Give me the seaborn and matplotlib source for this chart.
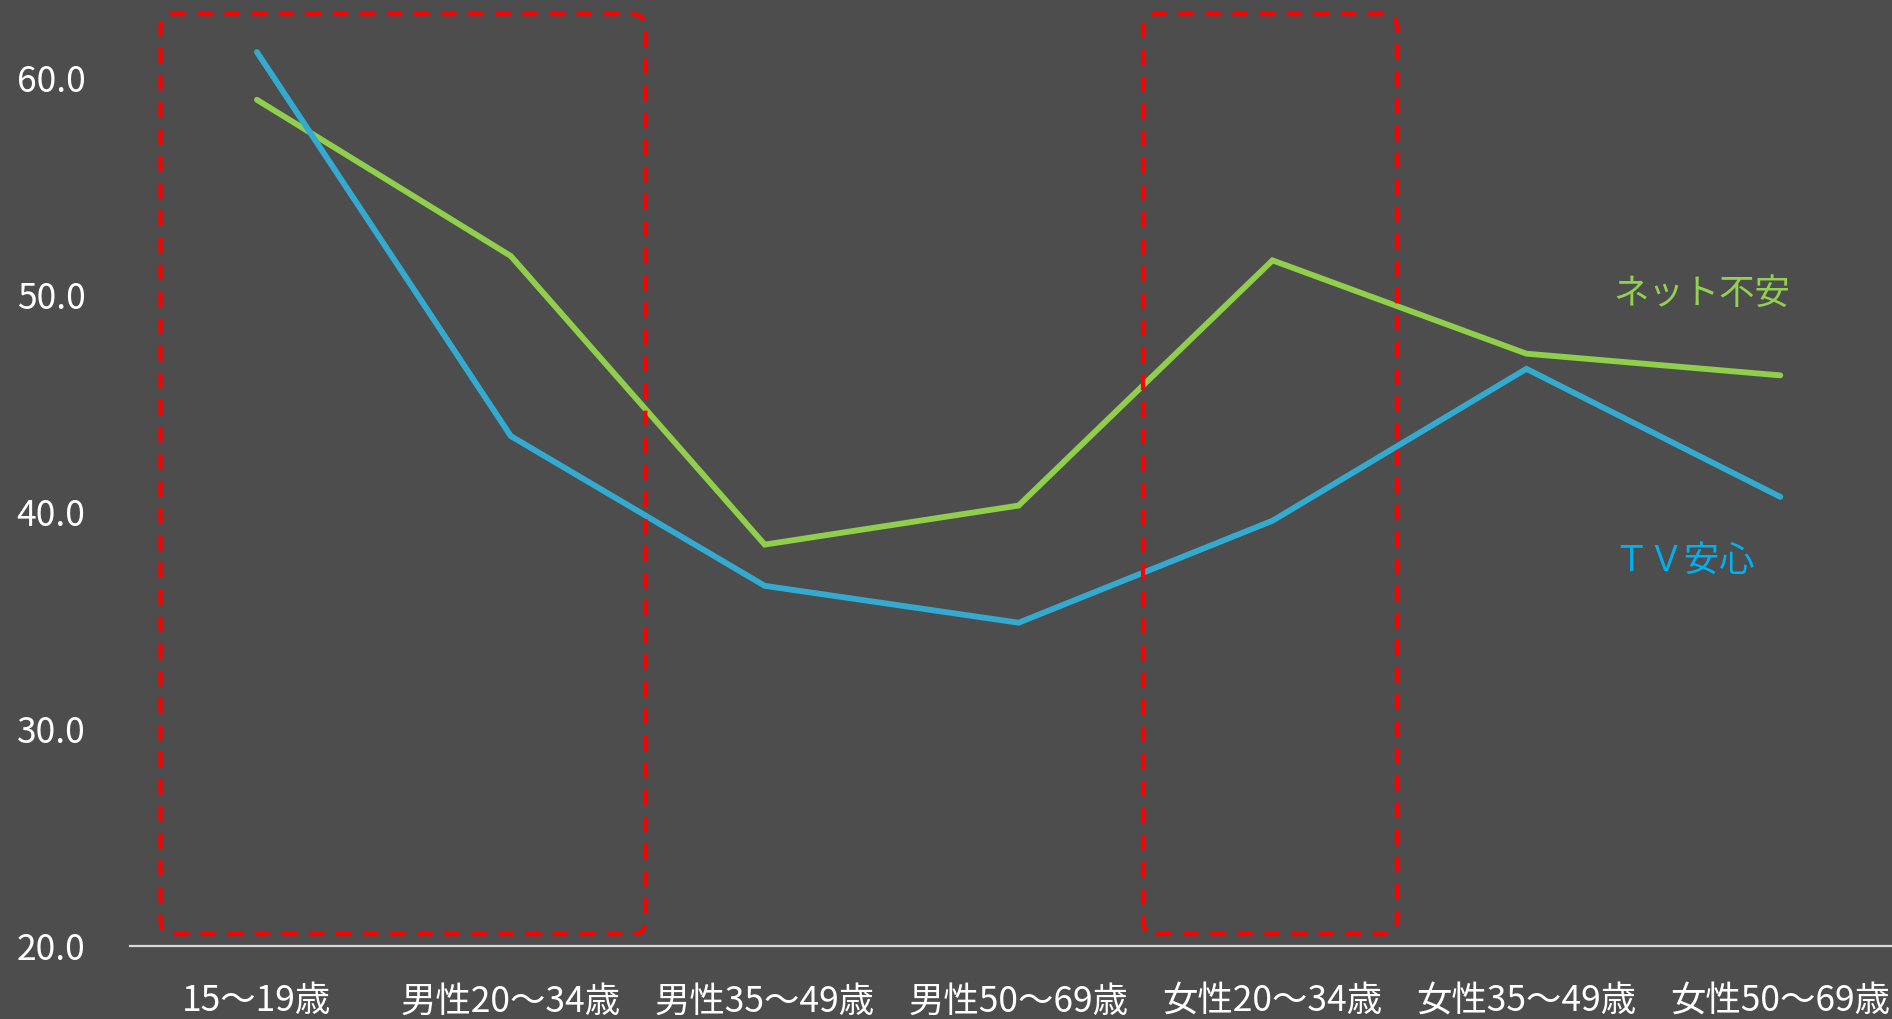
import matplotlib
matplotlib.use("Agg")
import matplotlib.pyplot as plt
from matplotlib.patches import FancyBboxPatch
from matplotlib.transforms import IdentityTransform
import seaborn as sns
import pandas as pd

# Age / gender groups along the x axis
categories = ["15～19歳", "男性20～34歳", "男性35～49歳", "男性50～69歳",
              "女性20～34歳", "女性35～49歳", "女性50～69歳"]
# Share of respondents (%)
net_anxiety = [59.0, 51.8, 38.5, 40.3, 51.6, 47.3, 46.3]   # ネット不安
tv_trust = [61.2, 43.5, 36.6, 34.9, 39.6, 46.6, 40.7]      # ＴＶ安心
y_ticks = [20.0, 30.0, 40.0, 50.0, 60.0]

# Highlighted group ranges (category index span, value span)
highlight_boxes = [(-0.38, 1.53, 20.55, 62.95), (3.49, 4.49, 20.55, 62.95)]

BG = "#4d4d4d"
GREEN = "#8fcf4c"
BLUE = "#33abd0"
GREEN_TXT = "#92d050"
BLUE_TXT = "#00b0f0"

sns.set_theme(style="dark")
plt.rcParams["font.family"] = ["Noto Sans CJK JP", "DejaVu Sans"]

df = pd.DataFrame({
    "group": categories * 2,
    "idx": list(range(len(categories))) * 2,
    "value": net_anxiety + tv_trust,
    "series": ["ネット不安"] * len(categories) + ["ＴＶ安心"] * len(categories),
})

fig = plt.figure(figsize=(18.92, 10.19), dpi=100, facecolor=BG)
ax = fig.add_axes([130 / 1892, 1 - 946 / 1019, 1 - 130 / 1892, 946 / 1019])
ax.set_facecolor(BG)

sns.lineplot(data=df, x="idx", y="value", hue="series",
             palette={"ネット不安": GREEN, "ＴＶ安心": BLUE},
             linewidth=4.2, legend=False, ax=ax,
             solid_capstyle="round", solid_joinstyle="miter")

ax.set_xlim(-0.5, 6.44)
ax.set_ylim(20, 63.6)
ax.set_xticks(range(len(categories)))
ax.set_xticklabels(categories)
ax.set_yticks(y_ticks)
ax.set_yticklabels([f"{v:.1f}" for v in y_ticks])
ax.tick_params(axis="x", length=0, pad=27, labelsize=25.5, colors="white")
ax.tick_params(axis="y", length=0, pad=32, labelsize=25.5, colors="white")
ax.set_xlabel("")
ax.set_ylabel("")
ax.grid(False)
for side in ["left", "right", "top"]:
    ax.spines[side].set_visible(False)
ax.spines["bottom"].set_color("#d9d9d9")
ax.spines["bottom"].set_linewidth(1.6)
ax.spines["bottom"].set_zorder(1)

# Series labels placed beside the line ends
ax.text(5.69, 50.05, "ネット不安", color=GREEN_TXT, fontsize=25.5,
        ha="center", va="center")
ax.text(5.62, 37.75, "ＴＶ安心", color=BLUE_TXT, fontsize=25.5,
        ha="center", va="center")

# Dashed rounded frames around the highlighted groups
fig.canvas.draw()
for x0, x1, y0, y1 in highlight_boxes:
    (px0, py0) = ax.transData.transform((x0, y0))
    (px1, py1) = ax.transData.transform((x1, y1))
    box = FancyBboxPatch((px0, py0), px1 - px0, py1 - py0,
                         boxstyle="round,pad=0,rounding_size=13",
                         transform=IdentityTransform(),
                         facecolor="none", edgecolor="#ff0000",
                         linewidth=3.0, linestyle=(0, (3.7, 2.8)),
                         zorder=5)
    fig.patches.append(box)

fig.savefig("out.png", dpi=100, facecolor=BG)
